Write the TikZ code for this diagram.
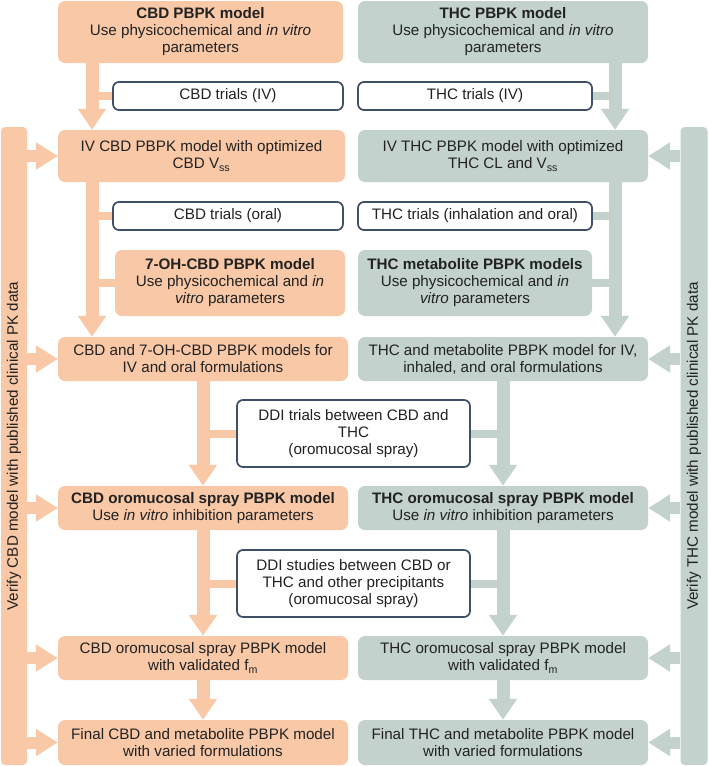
\documentclass[tikz,border=0pt]{standalone}
\usepackage{fontspec}
\setmainfont{Liberation Sans}
\usepackage{xcolor}
\usetikzlibrary{arrows.meta}

\definecolor{cbdfill}{HTML}{F8C8A7}
\definecolor{thcfill}{HTML}{C3D2CD}
\definecolor{trialline}{HTML}{3E4F68}
\definecolor{txt}{HTML}{222222}

\tikzset{
  boxL/.style={fill=cbdfill, rounded corners=7pt, align=center, inner sep=0pt},
  boxR/.style={fill=thcfill, rounded corners=7pt, align=center, inner sep=0pt},
  trialbox/.style={draw=trialline, line width=1.7pt, fill=white, rounded corners=6pt, align=center, inner sep=0pt},
  trunkL/.style={draw=cbdfill, line width=13pt, -{Triangle[width=27pt,length=21pt]}},
  trunkR/.style={draw=thcfill, line width=13pt, -{Triangle[width=27pt,length=21pt]}},
  sideL/.style={draw=cbdfill, line width=12pt, -{Triangle[width=26pt,length=22pt]}},
  sideR/.style={draw=thcfill, line width=12pt, -{Triangle[width=26pt,length=22pt]}},
  branchL/.style={draw=cbdfill, line width=8pt},
  branchR/.style={draw=thcfill, line width=8pt}
}

\begin{document}
\begin{tikzpicture}[x=1pt, y=-1pt, font=\fontsize{15.2}{17}\selectfont, text=txt]
  \useasboundingbox (0,0) rectangle (709,766);
  \coordinate (lt) at (92,0);
  \coordinate (rt) at (615,0);

  % CBD column
  \node[boxL, minimum width=285pt, minimum height=62pt] (cbd) at (200.5,32)
    {\textbf{CBD PBPK model}\\Use physicochemical and \textit{in vitro}\\parameters};
  \node[trialbox, minimum width=230pt, minimum height=28pt] (trivcbd) at (228,96) {CBD trials (IV)};
  \node[boxL, minimum width=287pt, minimum height=52pt] (ivcbd) at (201.5,156)
    {IV CBD PBPK model with optimized\\CBD V\textsubscript{ss}};
  \node[trialbox, minimum width=230pt, minimum height=28pt] (troralcbd) at (228,216) {CBD trials (oral)};
  \node[boxL, minimum width=230pt, minimum height=66pt] (ohcbd) at (230,283)
    {\textbf{7-OH-CBD PBPK model}\\Use physicochemical and \textit{in}\\\textit{vitro} parameters};
  \node[boxL, minimum width=290pt, minimum height=44pt] (cbdmet) at (203,359)
    {CBD and 7-OH-CBD PBPK models for\\IV and oral formulations};
  \node[boxL, minimum width=290pt, minimum height=44pt] (cbdoro) at (203,508)
    {\textbf{CBD oromucosal spray PBPK model}\\Use \textit{in vitro} inhibition parameters};
  \node[boxL, minimum width=290pt, minimum height=44pt] (cbdfm) at (203,658)
    {CBD oromucosal spray PBPK model\\with validated f\textsubscript{m}};
  \node[boxL, minimum width=290pt, minimum height=45pt] (cbdfin) at (203,742.5)
    {Final CBD and metabolite PBPK model\\with varied formulations};

  % THC column
  \node[boxR, minimum width=290pt, minimum height=62pt] (thc) at (503,32)
    {\textbf{THC PBPK model}\\Use physicochemical and \textit{in vitro}\\parameters};
  \node[trialbox, minimum width=234pt, minimum height=28pt] (trivthc) at (475,96) {THC trials (IV)};
  \node[boxR, minimum width=290pt, minimum height=52pt] (ivthc) at (503,156)
    {IV THC PBPK model with optimized\\THC CL and V\textsubscript{ss}};
  \node[trialbox, minimum width=234pt, minimum height=28pt] (troralthc) at (475,216) {THC trials (inhalation and oral)};
  \node[boxR, minimum width=234pt, minimum height=66pt] (thcmet) at (475,283)
    {\textbf{THC metabolite PBPK models}\\Use physicochemical and \textit{in}\\\textit{vitro} parameters};
  \node[boxR, minimum width=290pt, minimum height=44pt] (thcall) at (503,359)
    {THC and metabolite PBPK model for IV,\\inhaled, and oral formulations};
  \node[boxR, minimum width=290pt, minimum height=44pt] (thcoro) at (503,508)
    {\textbf{THC oromucosal spray PBPK model}\\Use \textit{in vitro} inhibition parameters};
  \node[boxR, minimum width=290pt, minimum height=44pt] (thcfm) at (503,658)
    {THC oromucosal spray PBPK model\\with validated f\textsubscript{m}};
  \node[boxR, minimum width=290pt, minimum height=45pt] (thcfin) at (503,742.5)
    {Final THC and metabolite PBPK model\\with varied formulations};

  % shared trials
  \node[trialbox, minimum width=233pt, minimum height=67pt] (ddtrials) at (353.5,433.5)
    {DDI trials between CBD and\\THC\\(oromucosal spray)};
  \node[trialbox, minimum width=233pt, minimum height=67pt] (ddstudies) at (353.5,583.5)
    {DDI studies between CBD or\\THC and other precipitants\\(oromucosal spray)};

  % verification bars
  \node[boxL, rounded corners=4pt, minimum width=26pt, minimum height=638pt] (cbdbar) at (14,446)
    {\rotatebox{90}{Verify CBD model with published clinical PK data}};
  \node[boxR, rounded corners=4pt, minimum width=27pt, minimum height=638pt] (thcbar) at (694,446)
    {\rotatebox{90}{Verify THC model with published clinical PK data}};

  % CBD flow
  \draw[trunkL] (cbd.south -| lt) -- (ivcbd.north -| lt);
  \draw[branchL] (trivcbd.west) -- (trivcbd.west -| lt);
  \draw[trunkL] (ivcbd.south -| lt) -- (cbdmet.north -| lt);
  \draw[branchL] (troralcbd.west) -- (troralcbd.west -| lt);
  \draw[branchL] (ohcbd.west) -- (ohcbd.west -| lt);
  \draw[trunkL] (cbdmet.south) -- (cbdoro.north);
  \draw[branchL] (ddtrials.west) -- (ddtrials.west -| cbdmet.south);
  \draw[trunkL] (cbdoro.south) -- (cbdfm.north);
  \draw[branchL] (ddstudies.west) -- (ddstudies.west -| cbdoro.south);
  \draw[trunkL] (cbdfm.south) -- (cbdfin.north);

  % THC flow
  \draw[trunkR] (thc.south -| rt) -- (ivthc.north -| rt);
  \draw[branchR] (trivthc.east) -- (trivthc.east -| rt);
  \draw[trunkR] (ivthc.south -| rt) -- (thcall.north -| rt);
  \draw[branchR] (troralthc.east) -- (troralthc.east -| rt);
  \draw[branchR] (thcmet.east) -- (thcmet.east -| rt);
  \draw[trunkR] (thcall.south) -- (thcoro.north);
  \draw[branchR] (ddtrials.east) -- (ddtrials.east -| thcall.south);
  \draw[trunkR] (thcoro.south) -- (thcfm.north);
  \draw[branchR] (ddstudies.east) -- (ddstudies.east -| thcoro.south);
  \draw[trunkR] (thcfm.south) -- (thcfin.north);

  % verification arrows
  \foreach \b in {ivcbd, cbdmet, cbdoro, cbdfm, cbdfin}
    \draw[sideL] (cbdbar.east |- \b.west) -- (\b.west);
  \foreach \b in {ivthc, thcall, thcoro, thcfm, thcfin}
    \draw[sideR] (thcbar.west |- \b.east) -- (\b.east);
\end{tikzpicture}
\end{document}
